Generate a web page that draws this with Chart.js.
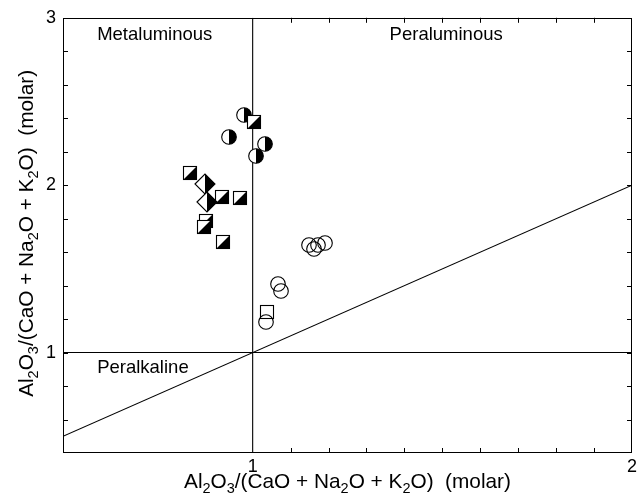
<!DOCTYPE html>
<html>
<head>
<meta charset="utf-8">
<script src="https://cdn.jsdelivr.net/npm/chart.js@4/dist/chart.umd.min.js"></script>
<style>
  html, body { margin: 0; padding: 0; background: #fff; }
  canvas { display: block; }
</style>
</head>
<body>
<canvas id="shand" width="643" height="502"></canvas>
<script>
// Shand's index: A/CNK (x) vs A/NK (y), molar ratios
const halfCircleX  = [0.976, 0.937, 1.032, 1.010];
const halfCircleY  = [2.417, 2.287, 2.248, 2.174];
const halfSquareX  = [1.003, 0.834, 0.920, 0.966, 0.878, 0.872, 0.922];
const halfSquareY  = [2.377, 2.074, 1.930, 1.921, 1.788, 1.752, 1.663];
const halfDiamondX = [0.875, 0.880];
const halfDiamondY = [2.006, 1.897];
const openCircleX  = [1.149, 1.162, 1.173, 1.190, 1.067, 1.076, 1.034];
const openCircleY  = [1.640, 1.616, 1.643, 1.657, 1.411, 1.365, 1.180];
const openSquareX  = [1.038];
const openSquareY  = [1.240];

// Field boundaries: A/CNK = 1, A/NK = 1 and A/NK = A/CNK
const xRange = [0.5, 2];
const yRange = [0.4, 3];
const acnkBoundary = 1;
const ankBoundary = 1;

// Axis ticks
const xTickLabels = [1, 2];
const yTickLabels = [1, 2, 3];
const xMinorTicks = [1.1, 1.2, 1.3, 1.4, 1.5, 1.6, 1.7, 1.8, 1.9];
const yMinorTicks = [0.6, 0.8, 1, 1.2, 1.4, 1.6, 1.8, 2, 2.2, 2.4, 2.6, 2.8];

// Field names and where they sit (left edge, vertical middle)
const fieldNames = ['Metaluminous', 'Peraluminous', 'Peralkaline'];
const fieldX = [0.590, 1.361, 0.590];
const fieldY = [2.895, 2.895, 0.908];

const FONT = '"Liberation Sans", Arial, Helvetica, sans-serif';

const zip = (xs, ys) => xs.map((x, i) => ({ x, y: ys[i] }));

// ---- symbol sprites -------------------------------------------------------
function sprite(size, draw) {
  const c = document.createElement('canvas');
  c.width = size; c.height = size;
  const g = c.getContext('2d');
  g.lineWidth = 1.1;
  g.strokeStyle = '#000';
  draw(g, size / 2);
  return c;
}
const R = 7.3;
const halfCircle = sprite(18, (g, m) => {
  g.beginPath(); g.arc(m, m, R, 0, Math.PI * 2); g.fillStyle = '#fff'; g.fill();
  g.beginPath(); g.moveTo(m, m - R); g.arc(m, m, R, -Math.PI / 2, Math.PI / 2); g.closePath();
  g.fillStyle = '#000'; g.fill();
  g.beginPath(); g.arc(m, m, R, 0, Math.PI * 2); g.stroke();
});
const halfSquare = sprite(16, (g, m) => {
  const a = 1.5, b = 14.5;
  g.fillStyle = '#fff'; g.fillRect(a, a, b - a, b - a);
  g.beginPath(); g.moveTo(b, a); g.lineTo(b, b); g.lineTo(a, b); g.closePath();
  g.fillStyle = '#000'; g.fill();
  g.strokeRect(a, a, b - a, b - a);
});
const halfDiamond = sprite(22, (g, m) => {
  const d = 10;
  g.beginPath(); g.moveTo(m - d, m); g.lineTo(m, m - d); g.lineTo(m + d, m); g.lineTo(m, m + d); g.closePath();
  g.fillStyle = '#fff'; g.fill();
  g.beginPath(); g.moveTo(m, m - d); g.lineTo(m + d, m); g.lineTo(m, m + d); g.closePath();
  g.fillStyle = '#000'; g.fill();
  g.beginPath(); g.moveTo(m - d, m); g.lineTo(m, m - d); g.lineTo(m + d, m); g.lineTo(m, m + d); g.closePath();
  g.stroke();
});
const openCircle = sprite(18, (g, m) => {
  g.beginPath(); g.arc(m, m, R, 0, Math.PI * 2); g.stroke();
});
const openSquare = sprite(16, (g, m) => {
  g.strokeRect(1.5, 1.5, 13, 13);
});

// ---- frame, inward ticks, field names and axis titles ---------------------
const axisTitle = [
  ['Al', 0], ['2', 1], ['O', 0], ['3', 1], ['/(CaO + Na', 0], ['2', 1],
  ['O + K', 0], ['2', 1], ['O)  (molar)', 0]
];
const TITLE_SIZE = 20.8, SUB_SIZE = 14.5, SUB_DROP = 5;

function drawRich(ctx, parts) {
  let total = 0;
  const widths = parts.map(([t, sub]) => {
    ctx.font = (sub ? SUB_SIZE : TITLE_SIZE) + 'px ' + FONT;
    const w = ctx.measureText(t).width; total += w; return w;
  });
  let x = -total / 2;
  parts.forEach(([t, sub], i) => {
    ctx.font = (sub ? SUB_SIZE : TITLE_SIZE) + 'px ' + FONT;
    ctx.fillText(t, x, sub ? SUB_DROP : 0);
    x += widths[i];
  });
}

const decorations = {
  id: 'decorations',
  beforeDatasetsDraw(chart) {
    // crisp symbol sprites
    chart.ctx.save();
    chart.ctx.imageSmoothingEnabled = false;
  },
  afterDatasetsDraw(chart) {
    chart.ctx.restore();
    const { ctx, chartArea: a, scales: { x, y } } = chart;
    ctx.save();
    ctx.strokeStyle = '#000';
    ctx.lineWidth = 1;
    // frame
    ctx.strokeRect(Math.round(a.left) + 0.5, Math.round(a.top) + 0.5,
      Math.round(a.right - a.left) - 1, Math.round(a.bottom - a.top) - 1);
    // inward ticks on all four sides
    const TL = 5;
    ctx.beginPath();
    xMinorTicks.forEach(v => {
      const px = Math.round(x.getPixelForValue(v)) + 0.5;
      ctx.moveTo(px, a.bottom); ctx.lineTo(px, a.bottom - TL);
      ctx.moveTo(px, a.top); ctx.lineTo(px, a.top + TL);
    });
    yMinorTicks.forEach(v => {
      const py = Math.round(y.getPixelForValue(v)) + 0.5;
      ctx.moveTo(a.left, py); ctx.lineTo(a.left + TL, py);
      ctx.moveTo(a.right, py); ctx.lineTo(a.right - TL, py);
    });
    ctx.stroke();

    // field names
    ctx.fillStyle = '#000';
    ctx.font = '18.5px ' + FONT;
    ctx.textAlign = 'left';
    ctx.textBaseline = 'middle';
    fieldNames.forEach((n, i) => {
      ctx.fillText(n, x.getPixelForValue(fieldX[i]), y.getPixelForValue(fieldY[i]));
    });

    // axis titles
    ctx.textBaseline = 'alphabetic';
    ctx.save();
    ctx.translate((a.left + a.right) / 2, 488);
    drawRich(ctx, axisTitle);
    ctx.restore();
    ctx.save();
    ctx.translate(33, (a.top + a.bottom) / 2 - 2);
    ctx.rotate(-Math.PI / 2);
    drawRich(ctx, axisTitle);
    ctx.restore();
    ctx.restore();
  }
};

const boundary = (pts) => ({
  data: pts, showLine: true, borderColor: '#000', borderWidth: 1.1,
  pointRadius: 0, pointHoverRadius: 0, fill: false, order: 10
});
const symbols = (pts, style) => ({
  data: pts, pointStyle: style, pointRadius: 8, showLine: false, order: 1
});

new Chart(document.getElementById('shand'), {
  type: 'scatter',
  data: {
    datasets: [
      symbols(zip(openSquareX, openSquareY), openSquare),
      symbols(zip(openCircleX, openCircleY), openCircle),
      symbols(zip(halfDiamondX, halfDiamondY), halfDiamond),
      symbols(zip(halfSquareX, halfSquareY), halfSquare),
      symbols(zip(halfCircleX, halfCircleY), halfCircle),
      boundary([{ x: acnkBoundary, y: yRange[0] }, { x: acnkBoundary, y: yRange[1] }]),
      boundary([{ x: xRange[0], y: ankBoundary }, { x: xRange[1], y: ankBoundary }]),
      boundary([{ x: xRange[0], y: xRange[0] }, { x: xRange[1], y: xRange[1] }])
    ]
  },
  options: {
    responsive: false,
    animation: false,
    devicePixelRatio: 1,
    layout: { padding: { top: 16, right: 11, left: 0, bottom: 0 } },
    plugins: { legend: { display: false }, tooltip: { enabled: false } },
    scales: {
      x: {
        type: 'linear', min: xRange[0], max: xRange[1],
        afterBuildTicks: s => { s.ticks = xTickLabels.map(v => ({ value: v })); },
        afterFit: s => { s.height = 49; },
        grid: { display: false, drawTicks: false },
        border: { display: false },
        ticks: { color: '#000', padding: 3, font: { family: FONT, size: 18 },
                 callback: v => String(v) }
      },
      y: {
        type: 'linear', min: yRange[0], max: yRange[1],
        afterBuildTicks: s => { s.ticks = yTickLabels.map(v => ({ value: v })); },
        afterFit: s => { s.width = 63; },
        grid: { display: false, drawTicks: false },
        border: { display: false },
        ticks: { color: '#000', padding: 7, font: { family: FONT, size: 18 },
                 callback: v => String(v) }
      }
    }
  },
  plugins: [decorations]
});
</script>
</body>
</html>
